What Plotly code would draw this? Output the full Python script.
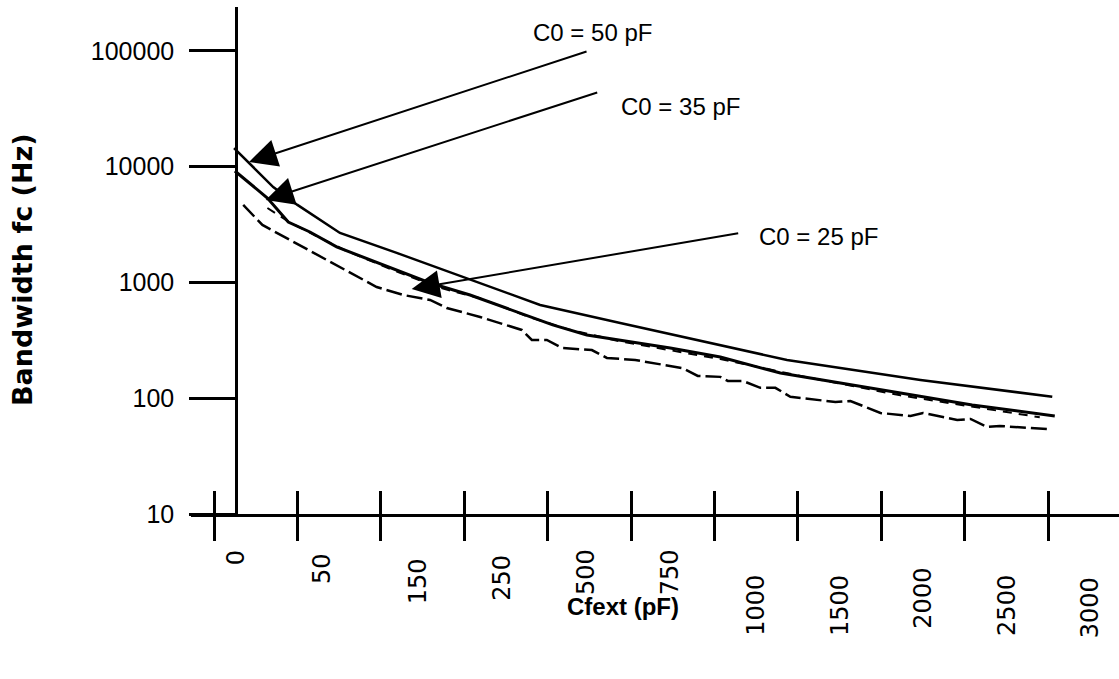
import plotly.graph_objects as go

# ---- data (x in category-tick units, y = bandwidth in Hz) ----
tick_labels = ["0", "50", "150", "250", "500", "750", "1000", "1500", "2000", "2500", "3000"]
tick_marks = [0, 1, 2, 3, 4, 5, 6, 7, 8, 9, 10]
label_pos = [0.26, 1.29, 2.45, 3.45, 4.46, 5.47, 6.49, 7.50, 8.49, 9.50, 10.50]

c50_x = [0.24, 0.71, 1.00, 1.51, 2.19, 2.99, 3.91, 4.87, 6.07, 6.87, 8.47, 10.05]
c50_y = [14500, 6680, 4680, 2680, 1800, 1115, 640, 447, 288, 214, 144, 103]

c35_x = [0.25, 0.64, 0.89, 1.15, 1.47, 1.79, 2.19, 2.59, 3.07, 3.67, 4.06, 4.47, 4.87, 5.47, 6.07, 6.79, 8.23, 9.09, 10.08]
c35_y = [9190, 5370, 3330, 2730, 2030, 1660, 1280, 990, 780, 545, 430, 352, 319, 272, 227, 165, 111, 87.5, 70.3]

c35b_x = [0.64, 0.91, 1.21, 1.57, 2.23, 2.71, 3.19, 3.79, 4.27, 4.87, 6.07, 7.03, 8.23, 9.90]
c35b_y = [4400, 3300, 2560, 1900, 1210, 900, 730, 500, 390, 310, 218, 156, 106, 68.5]

c25_x = [0.35, 0.58, 0.91, 1.31, 1.63, 1.95, 2.27, 2.59, 2.79, 3.19, 3.69, 3.81, 3.99, 4.17, 4.53, 4.71,
         5.05, 5.44, 5.62, 5.80, 6.07, 6.16, 6.34, 6.55, 6.73, 6.91, 7.45, 7.63, 7.99, 8.35, 8.50, 8.91,
         9.07, 9.27, 9.42, 9.99]
c25_y = [4677, 3140, 2330, 1628, 1233, 914, 780, 706, 602, 504, 389, 319, 319, 272, 261, 223,
         214, 190, 182, 156, 153, 141, 141, 123, 123, 103, 92.8, 94.7, 74.6, 70.3, 74.6, 64.9,
         66.2, 56.5, 57.6, 54.2]

y_ticks = [10, 100, 1000, 10000, 100000]
y_ticktext = ["10", "100", "1000", "10000", "100000"]

xr = [-0.276, 10.85]

# pixel offsets (below the axis line) of the top of each rotated x label
label_drop = [37, 40, 45, 42, 36, 36, 62, 62, 55, 62, 64]

fig = go.Figure()
fig.add_trace(go.Scatter(x=c50_x, y=c50_y, mode="lines", name="C0 = 50 pF",
                         line=dict(color="black", width=2.5)))
fig.add_trace(go.Scatter(x=c35_x, y=c35_y, mode="lines", name="C0 = 35 pF",
                         line=dict(color="black", width=3)))
fig.add_trace(go.Scatter(x=c35b_x, y=c35b_y, mode="lines", name="C0 = 35 pF (b)",
                         line=dict(color="black", width=2, dash="9px,7px")))
fig.add_trace(go.Scatter(x=c25_x, y=c25_y, mode="lines", name="C0 = 25 pF",
                         line=dict(color="black", width=2.5, dash="16px,5px")))

# invisible trace to activate the overlay x axis
fig.add_trace(go.Scatter(x=[xr[0]], y=[10], xaxis="x2", mode="markers",
                         marker=dict(opacity=0), hoverinfo="skip", showlegend=False))

fig.update_layout(
    width=1119, height=679,
    margin=dict(l=191, r=0, t=7, b=165),
    paper_bgcolor="white", plot_bgcolor="white",
    showlegend=False,
    xaxis=dict(range=xr, showgrid=False, zeroline=False, showline=True,
               linecolor="black", linewidth=2.5,
               tickmode="array", tickvals=tick_marks, showticklabels=False,
               ticks="outside", ticklen=24, tickwidth=2.5, tickcolor="black",
               automargin=False),
    xaxis2=dict(range=xr, overlaying="x", anchor="y", side="bottom",
                showgrid=False, zeroline=False, showline=False,
                tickmode="array", tickvals=tick_marks, showticklabels=False,
                ticks="inside", ticklen=23, tickwidth=2.5, tickcolor="black",
                automargin=False),
    yaxis=dict(type="log", range=[1, 5.38], anchor="free", position=0.0485,
               showgrid=False, zeroline=False, showline=True,
               linecolor="black", linewidth=2.5,
               tickmode="array", tickvals=y_ticks, ticktext=y_ticktext,
               ticks="outside", ticklen=46, tickwidth=2.5, tickcolor="black",
               ticklabelstandoff=10,
               tickfont=dict(family="Liberation Sans", size=25, color="black"),
               automargin=False),
)

# rotated category labels on the x axis
for lab, pos, drop in zip(tick_labels, label_pos, label_drop):
    fig.add_annotation(text=lab, x=pos, xref="x", y=0, yref="paper",
                       xanchor="center", yanchor="top", yshift=-drop + 2,
                       textangle=-90, showarrow=False, borderpad=0,
                       font=dict(family="DejaVu Sans", size=24, color="black"))

# axis titles
fig.add_annotation(text="<b>Bandwidth fc (Hz)</b>", xref="paper", yref="paper",
                   x=(22 - 191) / 928, y=(514 - 270) / 507, xanchor="center", yanchor="middle",
                   showarrow=False, textangle=-90,
                   font=dict(family="DejaVu Sans", size=27, color="black"))
fig.add_annotation(text="<b>Cfext (pF)</b>", xref="paper", yref="paper",
                   x=(623 - 191) / 928, y=(514 - 606) / 507, xanchor="center", yanchor="middle",
                   showarrow=False,
                   font=dict(family="Liberation Sans", size=24, color="black"))

# curve labels
for txt, cx, cy in [("C0 = 50 pF", 592, 32), ("C0 = 35 pF", 680, 106), ("C0 = 25 pF", 818, 236)]:
    fig.add_annotation(text=txt, xref="paper", yref="paper",
                       x=(cx - 191) / 928, y=(514 - cy) / 507,
                       xanchor="center", yanchor="middle", showarrow=False,
                       font=dict(family="Liberation Sans", size=24, color="black"))

# arrows (tip in data coords, tail offset in pixels)
arrows = [
    (0.42, 4.041, 339, -111),
    (0.62, 3.713, 333, -108),
    (2.37, 2.944, 328, -56),
]
for ux, ly, ax, ay in arrows:
    fig.add_annotation(x=ux, y=ly, xref="x", yref="y", ax=ax, ay=ay, text="",
                       showarrow=True, arrowhead=2, arrowsize=2.8, arrowwidth=2,
                       arrowcolor="black", standoff=0)

fig.write_html("out.html", config={"displayModeBar": False},
               post_script="document.body.style.margin='0';")
